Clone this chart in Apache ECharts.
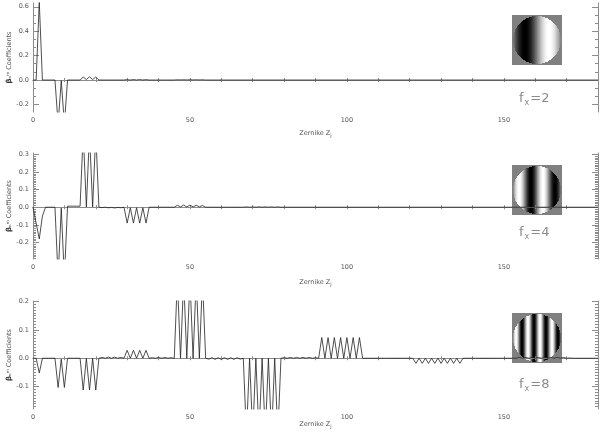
<!doctype html>
<html>
<head>
<meta charset="utf-8">
<title>Zernike coefficients</title>
<script src="https://cdn.jsdelivr.net/npm/echarts@6/dist/echarts.min.js"></script>
<style>
  html, body { margin: 0; padding: 0; background: #fff; }
  #main { width: 600px; height: 432px; }
</style>
</head>
<body>
<div id="main"></div>
<script>
// x axis: Zernike index j
var xMax = 180;
var xLabels = [0, 50, 100, 150];
var freqs = [2, 4, 8];

// coefficients, index = j
var coefF2 = [
  0, 0, 0.64, 0, 0, 0, 0, 0, -0.36, -0.005, -0.36, 0, 0, 0, 0, 0,
  0.025, 0.004, 0.027, 0.004, 0.025, 0, 0, 0, 0, 0, 0, 0, 0, 0,
  0.003, 0, 0.004, 0, 0.004, 0, 0.003, 0, 0, 0, 0, 0, 0, 0, 0, 0,
  0.002, 0.001, 0.002, 0.001, 0.002, 0.001, 0.002, 0.001, 0.002, 0
];
var coefF4 = [
  0, -0.09, -0.18, -0.05, 0, 0, 0, 0, -0.4, -0.005, -0.4, 0.006, 0.006, 0.006, 0.006, 0.006,
  0.42, 0.002, 0.42, 0.002, 0.42, 0,
  -0.002, 0, -0.003, -0.001, -0.004, -0.001, -0.003,
  0, -0.09, -0.003, -0.09, -0.003, -0.09, -0.003, -0.09, 0,
  0, 0, 0, 0, 0, 0, 0, 0,
  0.011, 0.002, 0.012, 0.002, 0.012, 0.002, 0.011, 0.002, 0.01, 0,
  0, 0, 0, 0, 0, 0, 0, 0, 0, 0, 0,
  0, 0.002, 0, 0.002, 0, 0.002, 0, 0.002, 0, 0.002, 0, 0.002, 0
];
var coefF8 = [
  0, 0, -0.052, 0, 0, 0, 0, 0, -0.103, -0.003, -0.103, 0, 0, 0, 0, 0,
  -0.112, 0, -0.112, 0, -0.112, 0,
  0.003, 0, 0.004, 0, 0.004, 0, 0.003,
  0, 0.028, 0, 0.028, 0, 0.028, 0, 0.028, 0,
  0.002, 0, 0.003, 0, 0.003, 0, 0.002, 0,
  0.28, 0, 0.28, 0, 0.28, 0, 0.28, 0, 0.28, 0,
  -0.003, 0.002, -0.004, 0.002, -0.004, 0.002, -0.004, 0.002, -0.004, 0.002, -0.003,
  0, -0.27, 0, -0.27, 0, -0.27, 0, -0.27, 0, -0.27, 0, -0.27, 0,
  0.002, 0, 0.003, 0, 0.003, 0, 0.003, 0, 0.003, 0, 0.002, 0,
  0.073, 0, 0.073, 0, 0.073, 0, 0.073, 0, 0.073, 0, 0.073, 0, 0.073, 0,
  0, 0, 0, 0, 0, 0, 0, 0, 0, 0, 0, 0, 0, 0, 0, 0,
  -0.018, 0, -0.018, 0, -0.018, 0, -0.018, 0, -0.018, 0, -0.018, 0, -0.018, 0, -0.018, 0,
  0, 0, 0, 0, 0, 0, 0, 0, 0, 0, 0, 0, 0, 0, 0, 0,
  0, 0.003, 0, 0.003, 0, 0.003, 0, 0.003, 0, 0.003, 0, 0.003, 0, 0.003, 0, 0.003, 0, 0.001, 0
];

var yMin = [-0.262, -0.294, -0.179];
var yMax = [0.631, 0.308, 0.202];
var yLabels = [
  [-0.2, 0, 0.2, 0.4, 0.6],
  [-0.2, -0.1, 0, 0.1, 0.2, 0.3],
  [-0.1, 0, 0.1, 0.2]
];
var yMinorStep = [0.2 / 3, 0.01, 0.01];

var coefs = [coefF2, coefF4, coefF8];
var grids = [
  { left: 33, top: 3, width: 565, height: 109 },
  { left: 33, top: 153, width: 565, height: 106 },
  { left: 33, top: 301, width: 565, height: 108 }
];
var xNameGap = [17, 19, 11];
var fTextY = [92, 226, 378];

var axisColor = '#8c8c8c';
var textColor = '#555';
var font = 'DejaVu Sans';

function minorTicks(i) {
  var out = [];
  var step = yMinorStep[i];
  for (var k = Math.ceil(yMin[i] / step); k * step <= yMax[i]; k++) out.push(+(k * step).toFixed(4));
  return out;
}

// small picture of the cosine pattern on the pupil
function pupilImage(f) {
  var n = 50, c = document.createElement('canvas');
  c.width = n; c.height = n;
  var ctx = c.getContext('2d');
  var img = ctx.createImageData(n, n);
  for (var y = 0; y < n; y++) {
    for (var x = 0; x < n; x++) {
      var u = (x + 0.5 - n / 2) / 24, v = (y + 0.5 - n / 2) / 24;
      var g = 128;
      if (u * u + v * v <= 1) g = Math.round((Math.sin(Math.PI * f * u / 2) + 1) / 2 * 255);
      var p = (y * n + x) * 4;
      img.data[p] = g; img.data[p + 1] = g; img.data[p + 2] = g; img.data[p + 3] = 255;
    }
  }
  ctx.putImageData(img, 0, 0);
  return c.toDataURL();
}

var xAxes = [], yAxes = [], series = [], graphics = [];

for (var i = 0; i < 3; i++) {
  var xBase = {
    gridIndex: i, type: 'value', min: 0, max: xMax, interval: 10,
    axisLine: { lineStyle: { color: axisColor, width: 1 } },
    axisTick: { inside: true, length: 2, lineStyle: { color: axisColor } },
    splitLine: { show: false }
  };
  xAxes.push(Object.assign({}, xBase, {
    position: 'bottom',
    axisLabel: { customValues: xLabels, fontSize: 6.5, color: textColor, fontFamily: font, margin: 5 },
    name: 'Zernike Z{s|j}', nameLocation: 'middle', nameGap: xNameGap[i], nameMoveOverlap: false,
    nameTextStyle: { fontSize: 6.5, color: textColor, fontFamily: font,
      rich: { s: { fontSize: 5, color: textColor, fontFamily: font, padding: [4, 0, 0, 0] } } }
  }));
  xAxes.push(Object.assign({}, xBase, { position: 'top', axisLabel: { show: false } }));

  var majors = yLabels[i], minors = minorTicks(i);
  var yBase = {
    gridIndex: i, type: 'value', min: yMin[i], max: yMax[i],
    splitLine: { show: false }
  };
  yAxes.push(Object.assign({}, yBase, {
    position: 'left',
    axisLine: { show: true, lineStyle: { color: axisColor } },
    axisTick: { show: true, inside: true, length: 6, customValues: majors, lineStyle: { color: axisColor } },
    axisLabel: { customValues: majors, fontSize: 6.5, color: textColor, fontFamily: font, margin: 4,
      formatter: function (v) { return v.toFixed(1); } },
    name: '{b|β}ₙᵐ Coefficients', nameLocation: 'middle', nameGap: 20, nameMoveOverlap: false,
    nameTextStyle: { fontSize: 6.5, color: textColor, fontFamily: font,
      rich: { b: { fontSize: 7, fontWeight: 'bold', color: '#333', fontFamily: font } } }
  }));
  yAxes.push(Object.assign({}, yBase, {
    position: 'left',
    axisLine: { show: false },
    axisTick: { show: true, inside: true, length: 3, customValues: minors, lineStyle: { color: axisColor } },
    axisLabel: { show: false }
  }));
  yAxes.push(Object.assign({}, yBase, {
    position: 'right',
    axisLine: { show: true, lineStyle: { color: axisColor } },
    axisTick: { show: true, inside: true, length: 6, customValues: majors, lineStyle: { color: axisColor } },
    axisLabel: { show: false }
  }));
  yAxes.push(Object.assign({}, yBase, {
    position: 'right',
    axisLine: { show: false },
    axisTick: { show: true, inside: true, length: 3, customValues: minors, lineStyle: { color: axisColor } },
    axisLabel: { show: false }
  }));

  var pts = coefs[i].map(function (v, j) { return [j, v]; });
  pts.push([xMax, 0]);
  series.push({
    type: 'line', xAxisIndex: 2 * i, yAxisIndex: 4 * i, data: pts,
    showSymbol: false, clip: true, silent: true,
    lineStyle: { color: '#222', width: 0.8 }
  });

  graphics.push({
    type: 'image', left: 512, top: grids[i].top + 12,
    style: { image: pupilImage(freqs[i]), width: 50, height: 50 }
  });
  graphics.push({
    type: 'text', left: 519, top: fTextY[i],
    style: {
      text: '{f|f}{x|x}{f|=' + freqs[i] + '}',
      rich: {
        f: { fontSize: 13, fill: '#8a8a8a', fontFamily: font },
        x: { fontSize: 8, fill: '#8a8a8a', fontFamily: font, padding: [9, 1, 0, 1] }
      }
    }
  });
}

var chart = echarts.init(document.getElementById('main'), null, { renderer: 'canvas' });
chart.setOption({
  animation: false,
  backgroundColor: '#fff',
  grid: grids.map(function (g) { return Object.assign({ containLabel: false, outerBoundsMode: 'none' }, g); }),
  xAxis: xAxes,
  yAxis: yAxes,
  series: series,
  graphic: graphics
});
</script>
</body>
</html>
